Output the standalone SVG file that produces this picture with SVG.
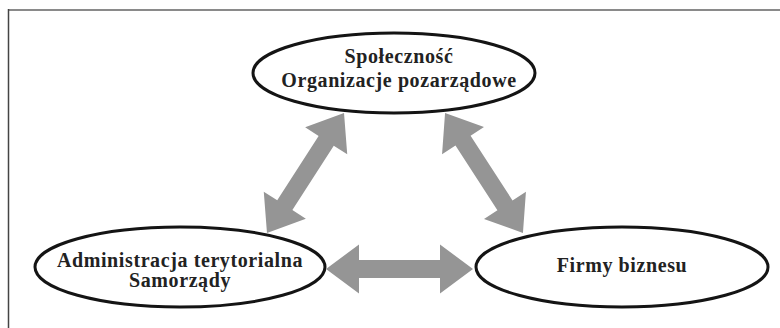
<svg xmlns="http://www.w3.org/2000/svg" width="780" height="328" viewBox="0 0 780 328">
<style>
.node ellipse{fill:#fff;stroke:#141414;stroke-width:3}
.node text{font-family:"Liberation Serif","Times New Roman",serif;font-weight:bold;font-size:20px;fill:#222;text-anchor:middle;letter-spacing:0.6px}
.arrow{fill:#959595}
</style>
<rect width="780" height="328" fill="#fff"/>
<line x1="8" y1="10" x2="780" y2="10" stroke="#8a8a8a" stroke-width="2"/>
<line x1="8.5" y1="9" x2="8.5" y2="328" stroke="#444" stroke-width="1.5"/>
<g id="connectors">
<polygon class="arrow" transform="translate(399.5,269)" points="-73.5,0 -40.5,-24.5 -40.5,-9 40.5,-9 40.5,-24.5 73.5,0 40.5,24.5 40.5,9 -40.5,9 -40.5,24.5"/>
<polygon class="arrow" transform="translate(305.5,173) rotate(122.7)" points="-71.3,0 -38.3,-25 -38.3,-9 38.3,-9 38.3,-25 71.3,0 38.3,25 38.3,9 -38.3,9 -38.3,25"/>
<polygon class="arrow" transform="translate(484,173) rotate(57)" points="-71.5,0 -38.5,-25 -38.5,-9 38.5,-9 38.5,-25 71.5,0 38.5,25 38.5,9 -38.5,9 -38.5,25"/>
</g>
<g id="spolecznosc" class="node">
<ellipse cx="394" cy="73" rx="141" ry="40"/>
<text x="399" y="63">Społeczność</text>
<text x="399" y="87">Organizacje pozarządowe</text>
</g>
<g id="administracja" class="node">
<ellipse cx="180" cy="267" rx="145" ry="40"/>
<text x="180" y="267">Administracja terytorialna</text>
<text x="180" y="287">Samorządy</text>
</g>
<g id="firmy" class="node">
<ellipse cx="622" cy="267" rx="146" ry="40"/>
<text x="622" y="272">Firmy biznesu</text>
</g>
</svg>
